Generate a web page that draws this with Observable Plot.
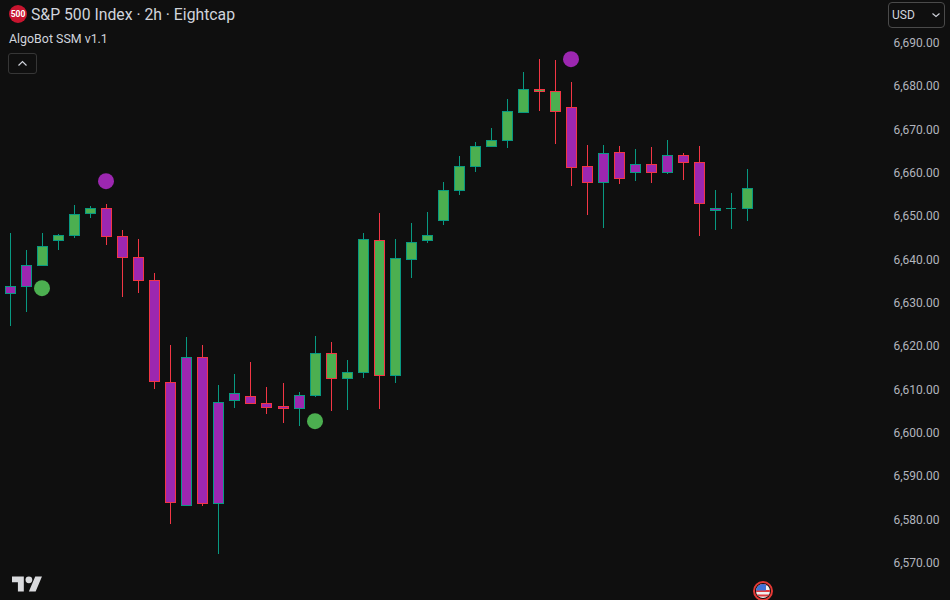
<!DOCTYPE html>
<html>
<head>
<meta charset="utf-8">
<script src="https://cdn.jsdelivr.net/npm/d3@7"></script>
<script src="https://cdn.jsdelivr.net/npm/@observablehq/plot@0.6"></script>
<style>
  html, body { margin: 0; padding: 0; background: #0f0f0f; width: 950px; height: 600px; overflow: hidden; }
  body { position: relative; font-family: Roboto, "Open Sans", sans-serif; color: #d1d4dc; }
  #chart { position: absolute; left: 0; top: 0; }
  #chart svg { display: block; background: #0f0f0f; }
  .ov { position: absolute; white-space: nowrap; }
  #title { left: 31px; top: 5px; font-size: 15.75px; line-height: 20px; }
  #sub { left: 9px; top: 30px; font-size: 12.4px; line-height: 17px; }
  #collapse { left: 8px; top: 53px; width: 27px; height: 19px; border: 1px solid #363636; border-radius: 3px; }
  #currency { left: 888px; top: 2px; width: 55px; height: 24px; border: 1px solid #4a4a4a; border-radius: 4px; font-size: 12px; line-height: 24px; text-indent: 3px; }
</style>
</head>
<body>
<div id="chart"></div>
<svg class="ov" style="left:9px;top:5px" width="18" height="18" viewBox="0 0 18 18"><circle cx="9" cy="9" r="9" fill="#c8152f"/><text x="9" y="12" text-anchor="middle" font-size="8.5" font-weight="700" fill="#fff" font-family="Roboto">500</text></svg>
<div class="ov" id="title">S&amp;P 500 Index · 2h · Eightcap</div>
<div class="ov" id="sub">AlgoBot SSM v1.1</div>
<div class="ov" id="collapse"><svg width="27" height="19" viewBox="0 0 27 19"><path d="M9.5 11.5 L13.5 7.5 L17.5 11.5" fill="none" stroke="#d1d4dc" stroke-width="1.2"/></svg></div>
<div class="ov" id="currency">USD<svg style="position:absolute;right:3px;top:9px" width="10" height="7" viewBox="0 0 10 7"><path d="M1.5 1.5 L5 4.5 L8.5 1.5" fill="none" stroke="#d1d4dc" stroke-width="1.1"/></svg></div>
<svg class="ov" style="left:12px;top:572.6px" width="30.4" height="23.7" viewBox="0 0 36 28"><path fill="#d9dadd" d="M14 22H7V11H0V4h14v18zM28 22h-8l7.5-18h8L28 22z"/><circle fill="#d9dadd" cx="20" cy="8" r="4"/></svg>
<svg class="ov" style="left:752px;top:580px" width="22" height="20" viewBox="0 0 22 20">
  <defs><clipPath id="fc"><circle cx="11" cy="11" r="7"/></clipPath></defs>
  <g clip-path="url(#fc)">
    <rect x="3" y="3" width="16" height="16" fill="#f0f0f0"/>
    <rect x="3" y="3" width="16" height="2.5" fill="#e0393e"/>
    <rect x="3" y="10" width="16" height="2" fill="#e0393e"/>
    <rect x="3" y="14.5" width="16" height="2" fill="#e0393e"/>
    <rect x="3" y="3" width="11" height="7.5" fill="#3f72d8"/>
  </g>
  <circle cx="11" cy="11" r="9" fill="none" stroke="#e53935" stroke-width="2"/>
</svg>
<script>
// Price levels (high, body top, body bottom, low) per two-hour candle
const highs = [6645.92,6642.00,6645.92,6645.69,6652.38,6652.15,6652.62,6646.62,6644.54,6636.69,6620.08,6621.92,6620.08,6610.85,6613.38,6616.15,6610.38,6611.31,6609.23,6622.15,6620.77,6616.62,6645.92,6650.54,6644.54,6648.23,6650.77,6657.69,6663.69,6666.92,6670.15,6676.85,6683.08,6686.08,6685.85,6680.77,6666.23,6666.23,6666.00,6665.31,6665.77,6667.38,6664.38,6666.00,6655.85,6655.15,6660.69];
const bodyTops = [6633.69,6638.54,6642.92,6645.46,6650.31,6651.69,6651.69,6645.23,6640.38,6635.08,6611.54,6617.31,6617.31,6606.92,6609.00,6608.31,6606.69,6606.00,6608.54,6618.23,6618.23,6613.85,6644.54,6644.31,6640.15,6643.85,6645.46,6655.85,6661.38,6666.00,6667.38,6674.08,6679.15,6679.15,6678.69,6675.00,6661.38,6664.38,6664.62,6661.85,6661.85,6663.92,6663.92,6662.31,6651.69,6651.69,6656.31];
const bodyBottoms = [6632.08,6633.69,6638.54,6644.31,6645.46,6650.54,6645.23,6640.38,6635.08,6611.77,6583.85,6583.15,6583.62,6583.62,6607.38,6606.69,6605.77,6605.54,6605.54,6608.54,6612.46,6612.46,6613.85,6613.15,6613.15,6639.92,6644.31,6648.92,6655.85,6661.38,6666.00,6667.38,6673.85,6678.69,6674.08,6661.15,6657.69,6657.69,6658.62,6660.00,6660.00,6660.00,6662.31,6652.85,6651.23,6651.69,6651.69];
const lows = [6624.46,6627.69,6638.54,6642.00,6644.77,6649.38,6643.15,6631.15,6632.08,6609.92,6578.77,6583.15,6582.92,6571.85,6605.54,6606.69,6604.15,6602.08,6601.38,6608.08,6604.85,6605.08,6612.46,6605.31,6611.31,6635.54,6643.62,6647.77,6654.69,6660.00,6665.77,6665.54,6673.62,6674.08,6666.46,6656.77,6650.08,6647.08,6657.23,6657.92,6657.46,6659.54,6658.15,6645.23,6646.62,6646.85,6648.69];
// Candle border/wick tone: T teal, R red. Body tone: P purple, G green.
const borders = "TTTTTTRRRRRTRTTRRRTTRTTRTTTTTTTTTRRRRTRTRTRRTTT".split("");
const bodies  = "PPGGGGPPPPPPPPPPPPPGGGGGGGGGGGGGGGGPPPPPPPPPPGG".split("");
// Signal markers
const buySignals  = [{i: 2, price: 6633.23}, {i: 19, price: 6602.54}];
const sellSignals = [{i: 6, price: 6657.90}, {i: 35, price: 6686.00}];
const priceTicks = [6570,6580,6590,6600,6610,6620,6630,6640,6650,6660,6670,6680,6690];

const borderColor = {T: "#089981", R: "#f23645"};
const bodyColor = {P: "#9c27b0", G: "#4caf50"};
const halfBody = 5 / 16.02;
const candles = highs.map((h, i) => ({i, high: h, top: bodyTops[i], bottom: bodyBottoms[i], low: lows[i], border: borderColor[borders[i]], body: bodyColor[bodies[i]]}));

const plot = Plot.plot({
  width: 950, height: 600,
  marginTop: 0, marginBottom: 0, marginLeft: 0, marginRight: 57,
  style: {background: "#0f0f0f", color: "#b2b5be", fontFamily: "Roboto, sans-serif", fontSize: "12px"},
  x: {type: "linear", domain: [-10.17 / 16.02, (893 - 10.17) / 16.02], round: true, axis: null},
  y: {type: "linear", domain: [6561.231, 6699.692], round: true, axis: null},
  marks: [
    Plot.ruleX(candles, {x: "i", y1: "low", y2: "high", stroke: "border", strokeWidth: 1}),
    Plot.rect(candles.filter(d => d.top !== d.bottom), {
      x1: d => d.i - halfBody, x2: d => d.i + halfBody,
      y1: "bottom", y2: "top", fill: "body", stroke: "border", strokeWidth: 1, dx: 0.5, dy: 0.5
    }),
    Plot.ruleY(candles.filter(d => d.top === d.bottom), {
      x1: d => d.i - halfBody, x2: d => d.i + halfBody, y: "top", stroke: "border", strokeWidth: 1
    }),
    Plot.dot(buySignals, {x: "i", y: "price", r: 8, fill: "#4caf50", dx: -0.5, dy: -0.3}),
    Plot.dot(sellSignals, {x: "i", y: "price", r: 8, fill: "#9c27b0", dx: -0.5, dy: -0.3}),
    Plot.axisY({
      anchor: "right", ticks: priceTicks, tickSize: 0, tickPadding: 0, dy: 0.25,
      tickFormat: d3.format(",.2f"), label: null, fontSize: 12, fill: "#b2b5be"
    })
  ]
});
document.getElementById("chart").append(plot);
</script>
</body>
</html>
